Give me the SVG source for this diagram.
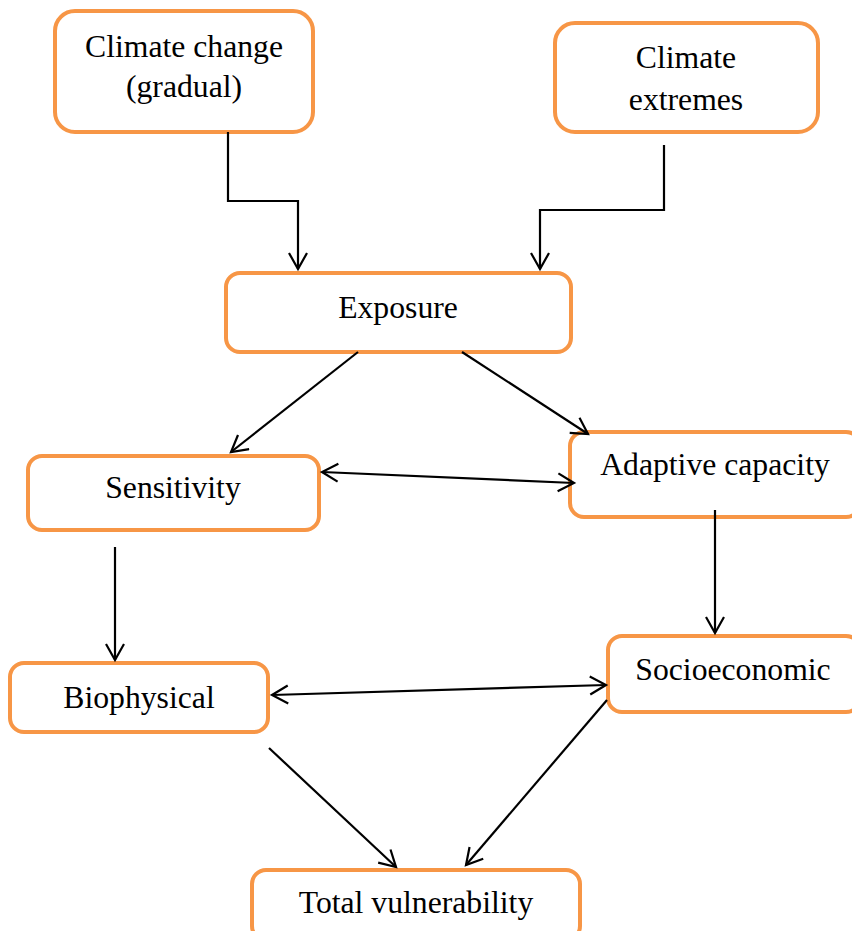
<svg xmlns="http://www.w3.org/2000/svg" width="852" height="931" viewBox="0 0 852 931">
<defs>
<style>
.box{fill:#fff;stroke:#F79646;stroke-width:4}
.t{font-family:"Liberation Serif","Times New Roman",serif;font-size:31.7px;fill:#000;text-anchor:middle}
.c{fill:none;stroke:#000;stroke-width:2.2}
</style>
<marker id="ah" markerUnits="userSpaceOnUse" markerWidth="24" markerHeight="24" refX="17" refY="10" orient="auto-start-reverse" viewBox="0 0 24 24">
<path d="M1,1 L17,10 L1,19" fill="none" stroke="#000" stroke-width="2.2"/>
</marker>
</defs>
<rect width="852" height="931" fill="#fff"/>
<g id="n-climate-change"><rect class="box" x="55" y="11" width="258" height="121" rx="20"/><text class="t" x="184" y="57">Climate change</text><text class="t" x="184" y="97">(gradual)</text></g>
<g id="n-climate-extremes"><rect class="box" x="555" y="23" width="263" height="109" rx="20"/><text class="t" x="686" y="68">Climate</text><text class="t" x="686" y="110">extremes</text></g>
<g id="n-exposure"><rect class="box" x="226" y="273" width="345" height="79" rx="14"/><text class="t" x="398" y="318">Exposure</text></g>
<g id="n-sensitivity"><rect class="box" x="28" y="456" width="291" height="74" rx="14"/><text class="t" x="173" y="498">Sensitivity</text></g>
<g id="n-adaptive"><rect class="box" x="570" y="432" width="290" height="85" rx="14"/><text class="t" x="715" y="475">Adaptive capacity</text></g>
<g id="n-biophysical"><rect class="box" x="10" y="663" width="258" height="69" rx="14"/><text class="t" x="139" y="708">Biophysical</text></g>
<g id="n-socioeconomic"><rect class="box" x="608" y="636" width="252" height="76" rx="14"/><text class="t" x="733" y="680">Socioeconomic</text></g>
<g id="n-total"><rect class="box" x="252" y="870" width="328" height="70" rx="14"/><text class="t" x="416" y="913">Total vulnerability</text></g>
<g id="connectors">
<polyline class="c" points="228,132 228,201 298,201 298,269" marker-end="url(#ah)"/>
<polyline class="c" points="664,145 664,210 540,210 540,269" marker-end="url(#ah)"/>
<line class="c" x1="358" y1="352" x2="231" y2="452" marker-end="url(#ah)"/>
<line class="c" x1="462" y1="352" x2="588" y2="434" marker-end="url(#ah)"/>
<line class="c" x1="322" y1="472" x2="574" y2="483" marker-start="url(#ah)" marker-end="url(#ah)"/>
<line class="c" x1="715" y1="510" x2="715" y2="633" marker-end="url(#ah)"/>
<line class="c" x1="115" y1="547" x2="115" y2="660" marker-end="url(#ah)"/>
<line class="c" x1="272" y1="695" x2="606" y2="685" marker-start="url(#ah)" marker-end="url(#ah)"/>
<line class="c" x1="269" y1="748" x2="396" y2="867" marker-end="url(#ah)"/>
<line class="c" x1="607" y1="700" x2="466" y2="865" marker-end="url(#ah)"/>
</g>
</svg>
